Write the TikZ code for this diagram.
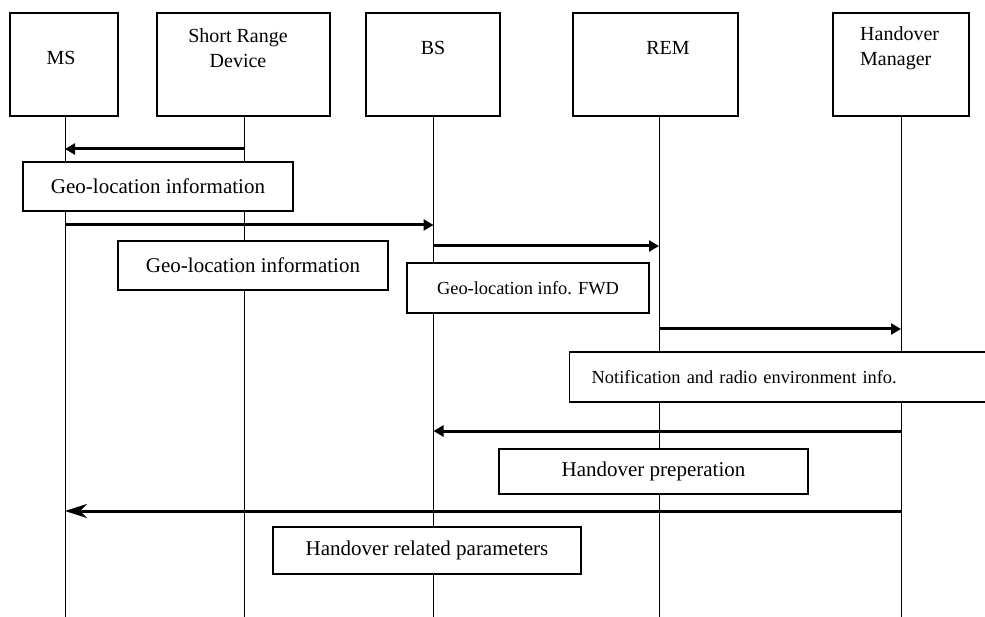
\documentclass[tikz,border=0pt]{standalone}
\usepackage{fontspec}
\setmainfont{Liberation Serif}
\usetikzlibrary{arrows.meta}
\begin{document}
\begin{tikzpicture}[x=1pt,y=-1pt,
  hbox/.style={draw,line width=1.4pt,minimum height=103pt,inner sep=0pt},
  htext/.style={font=\fontsize{20}{25}\selectfont,inner sep=0pt,align=left},
  life/.style={line width=1pt},
  msg/.style={line width=3pt,-{Triangle[length=10pt,width=11pt]}},
  bigmsg/.style={line width=3pt,-{Stealth[length=22pt,width=14pt,inset=7pt]}},
  mbox/.style={draw,line width=1.4pt,fill=white,inner sep=0pt,font=\fontsize{21}{24}\selectfont},
  sbox/.style={draw,line width=1.4pt,fill=white,inner sep=0pt,font=\fontsize{18.4}{22}\selectfont}]
\clip (0,0) rectangle (985,617);
\fill[white] (0,0) rectangle (985,617);
% header boxes
\node[hbox,minimum width=108pt] (ms) at (64,64.5) {};
\node[hbox,minimum width=173pt] (srd) at (243.5,64.5) {};
\node[hbox,minimum width=134pt] (bs) at (433,64.5) {};
\node[hbox,minimum width=165pt] (rem) at (655.5,64.5) {};
\node[hbox,minimum width=136pt] (hm) at (901,64.5) {};
\node[htext] (tms) at (61,57.5) {MS};
\node[htext,align=center] (tsrd) at (238,48) {Short Range\\Device};
\node[htext] (tbs) at (433,47.5) {BS};
\node[htext] (trem) at (668,47.5) {REM};
\node[htext,anchor=west] (thm) at (860,48) {Handover\\Manager};
% lifeline ends
\coordinate (msE) at (65,617);
\coordinate (srdE) at (244,617);
\coordinate (bsE) at (433.5,617);
\coordinate (remE) at (659,617);
\coordinate (hmE) at (901,617);
\draw[life] (65,116) -- (msE);
\draw[life] (244,116) -- (srdE);
\draw[life] (433.5,116) -- (bsE);
\draw[life] (659,116) -- (remE);
\draw[life] (901,116) -- (hmE);
% message points
\coordinate (m1a) at (244,149);  \coordinate (m1b) at (65,149);
\coordinate (m2a) at (65,225);   \coordinate (m2b) at (433.5,225);
\coordinate (m3a) at (433.5,246);\coordinate (m3b) at (659,246);
\coordinate (m4a) at (659,329);  \coordinate (m4b) at (901,329);
\coordinate (m5a) at (901,431);  \coordinate (m5b) at (433.5,431);
\coordinate (m6a) at (901,511);  \coordinate (m6b) at (65,511);
\draw[msg] (m1a) -- (m1b);
\draw[msg] (m2a) -- (m2b);
\draw[msg] (m3a) -- (m3b);
\draw[msg] (m4a) -- (m4b);
\draw[msg] (m5a) -- (m5b);
\draw[bigmsg] (m6a) -- (m6b);
% message boxes
\node[mbox,minimum width=270pt,minimum height=49pt] (b1) at (158,186.5) {Geo-location information};
\node[mbox,minimum width=270pt,minimum height=49pt] (b2) at (253,265.5) {Geo-location information};
\node[sbox,minimum width=242pt,minimum height=50pt] (b3) at (528,288) {Geo-location info. FWD};
\node[sbox,anchor=west,text width=409pt,inner xsep=22pt,minimum height=50pt,align=left] (b4) at (569,377) {Notification and radio environment info.};
\node[mbox,minimum width=309pt,minimum height=45pt] (b5) at (653.5,471.5) {Handover preperation};
\node[mbox,minimum width=308pt,minimum height=47pt] (b6) at (427,550.5) {Handover related parameters};
\end{tikzpicture}
\end{document}
